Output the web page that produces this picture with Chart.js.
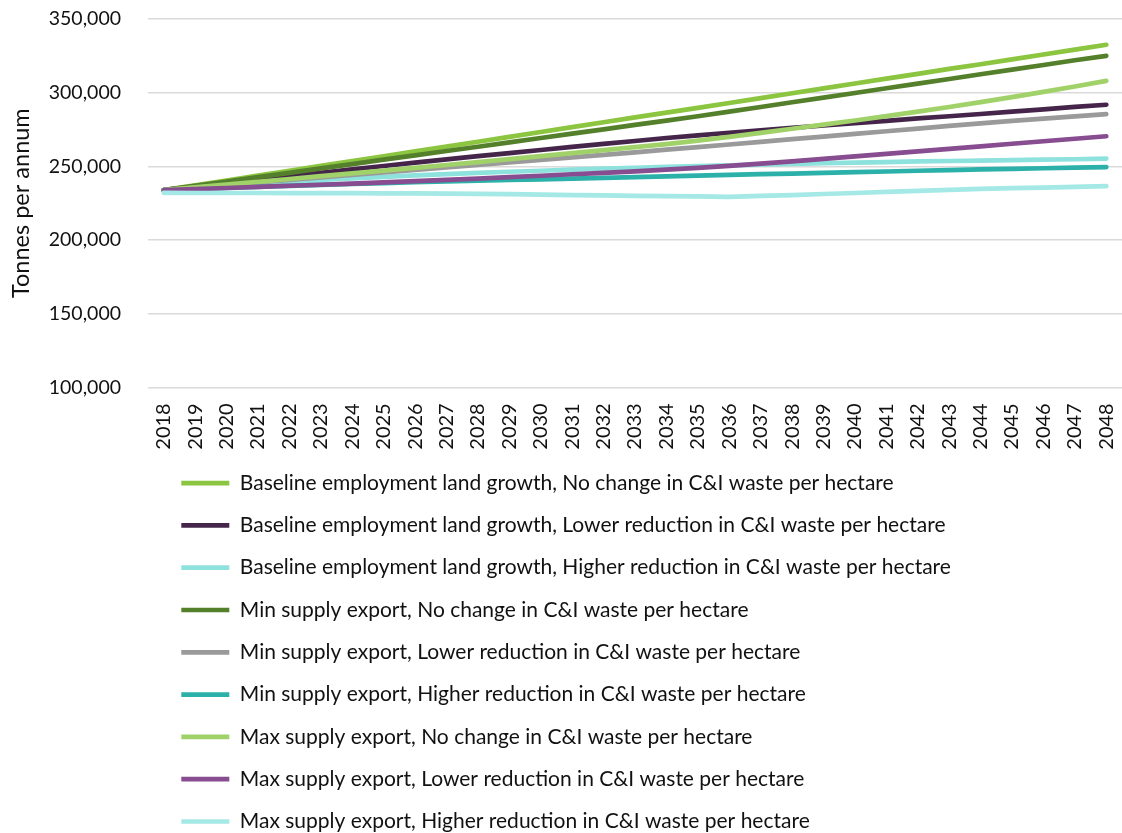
<!DOCTYPE html>
<html>
<head>
<meta charset="utf-8">
<title>C&amp;I waste projections</title>
<script src="https://cdn.jsdelivr.net/npm/chart.js@4/dist/chart.umd.min.js"></script>
<style>
    html, body { margin: 0; padding: 0; background: #ffffff; }
    #chart-wrap { width: 1122px; height: 833px; }
</style>
</head>
<body>
<div id="chart-wrap"><canvas id="Chart"></canvas></div>
<script>
const years = [];
for (let y = 2018; y <= 2048; y++) years.push(String(y));

const seriesNames = [
    'Baseline employment land growth, No change in C&I waste per hectare',
    'Baseline employment land growth, Lower reduction in C&I waste per hectare',
    'Baseline employment land growth, Higher reduction in C&I waste per hectare',
    'Min supply export, No change in C&I waste per hectare',
    'Min supply export, Lower reduction in C&I waste per hectare',
    'Min supply export, Higher reduction in C&I waste per hectare',
    'Max supply export, No change in C&I waste per hectare',
    'Max supply export, Lower reduction in C&I waste per hectare',
    'Max supply export, Higher reduction in C&I waste per hectare'
];

// tonnes per annum, 2018-2048
const baselineNoChange = [233800, 237100, 240400, 243700, 247000, 250300, 253500, 256800, 260100, 263400,
    266700, 270000, 273300, 276600, 279900, 283200, 286400, 289700, 293000, 296300,
    299600, 302900, 306200, 309500, 312800, 316100, 319300, 322600, 325900, 329200, 332500];
const baselineLower = [233800, 236200, 238500, 240900, 243200, 245500, 247900, 250200, 252500, 254700,
    256900, 259000, 261100, 263200, 265200, 267200, 269200, 271000, 272800, 274500,
    276100, 277700, 279300, 280900, 282500, 284000, 285500, 287100, 288700, 290300, 291800];
const baselineHigher = [233800, 235300, 236800, 238200, 239500, 240700, 241800, 242800, 243800, 244700,
    245500, 246300, 247000, 247700, 248400, 249000, 249600, 250200, 250700, 251200,
    251700, 252100, 252500, 252900, 253300, 253600, 253900, 254200, 254500, 254800, 255200];
const minNoChange = [233800, 236800, 239700, 242700, 245600, 248600, 251500, 254500, 257400, 260400,
    263300, 266300, 269200, 272200, 275100, 278100, 281000, 284000, 287100, 290300,
    293500, 296600, 299800, 303000, 306100, 309300, 312500, 315600, 318800, 322000, 325000];
const minLower = [233800, 235500, 237200, 239000, 240700, 242400, 244100, 245800, 247500, 249300,
    251000, 252700, 254400, 256100, 257800, 259500, 261300, 263000, 264800, 266600,
    268400, 270200, 272000, 273800, 275600, 277400, 279200, 280800, 282400, 283900, 285400];
const minHigher = [233800, 234600, 235300, 236000, 236700, 237400, 238000, 238600, 239200, 239700,
    240200, 240700, 241200, 241700, 242200, 242700, 243200, 243700, 244200, 244700,
    245100, 245600, 246100, 246500, 247000, 247400, 247900, 248300, 248700, 249100, 249500];
const maxNoChange = [233800, 235700, 237600, 239500, 241400, 243300, 245200, 247100, 249000, 250900,
    252900, 254900, 256900, 258900, 261000, 263000, 265100, 267400, 270000, 272700,
    275500, 278300, 281100, 284100, 287100, 290300, 293600, 297000, 300500, 304200, 308000];
const maxLower = [233800, 234500, 235300, 236000, 236800, 237500, 238300, 239100, 239900, 240800,
    241700, 242600, 243600, 244600, 245600, 246600, 247700, 248900, 250300, 251800,
    253400, 255100, 256800, 258500, 260200, 261900, 263600, 265300, 267000, 268700, 270400];
const maxHigher = [232000, 231900, 231900, 231900, 231800, 231800, 231800, 231700, 231700, 231500,
    231300, 231100, 230800, 230500, 230300, 230000, 229800, 229600, 229300, 229900,
    230500, 231200, 231900, 232600, 233300, 234000, 234700, 235200, 235600, 236100, 236500];

const yTicks = [100000, 150000, 200000, 250000, 300000, 350000];

const seriesValues = [baselineNoChange, baselineLower, baselineHigher,
    minNoChange, minLower, minHigher, maxNoChange, maxLower, maxHigher];
const seriesColours = ['#8cc540', '#45264a', '#8ee2dd', '#55802b', '#9a9a9a',
    '#2bb1a9', '#a1d26a', '#884c90', '#a4e9e5'];

const FONT = 'Lato, "Open Sans", sans-serif';
const TEXT_COLOUR = '#111111';
const LEGEND_LEFT = 160;
const X_AXIS_HEIGHT = 64;
const Y_AXIS_WIDTH = 148;

function buildDatasets() {
    return seriesNames.map(function (name, i) {
        return {
            label: name,
            data: seriesValues[i],
            borderColor: seriesColours[i],
            backgroundColor: seriesColours[i],
            borderWidth: 4.7,
            borderCapStyle: 'round',
            borderJoinStyle: 'round',
            pointRadius: 0,
            pointHoverRadius: 0,
            tension: 0,
            // later series sit on top of earlier ones
            order: seriesNames.length - i
        };
    });
}

// rows of the legend start under the plot rather than centred
const legendPlacement = {
    id: 'legendPlacement',
    afterLayout: function (chart) {
        chart.legend.left = LEGEND_LEFT;
    }
};

const ctx = document.getElementById('Chart').getContext('2d');
const wasteChart = new Chart(ctx, {
    type: 'line',
    data: {
        labels: years,
        datasets: buildDatasets()
    },
    options: {
        responsive: true,
        maintainAspectRatio: false,
        animation: false,
        layout: {
            padding: { top: 19, right: 0, bottom: -9, left: 0 }
        },
        scales: {
            x: {
                offset: true,
                grid: { display: false, drawTicks: false },
                border: { display: false },
                afterFit: function (scale) {
                    // plot runs to the right edge, labels sit in a fixed band
                    scale.paddingLeft = 0;
                    scale.paddingRight = 0;
                    scale.height = X_AXIS_HEIGHT;
                },
                ticks: {
                    autoSkip: false,
                    minRotation: 90,
                    maxRotation: 90,
                    padding: 16,
                    color: TEXT_COLOUR,
                    font: { family: FONT, size: 20 }
                }
            },
            y: {
                min: 100000,
                max: 350000,
                afterBuildTicks: function (scale) {
                    scale.ticks = yTicks.map(function (v) { return { value: v }; });
                },
                afterFit: function (scale) {
                    scale.width = Y_AXIS_WIDTH;
                    scale.paddingTop = 0;
                    scale.paddingBottom = 0;
                },
                grid: { color: '#dadada', lineWidth: 1.5, drawTicks: false },
                border: { display: false },
                ticks: {
                    padding: 27,
                    color: TEXT_COLOUR,
                    font: { family: FONT, size: 19.5 },
                    callback: function (v) { return v.toLocaleString('en-GB'); }
                },
                title: {
                    display: true,
                    text: 'Tonnes per annum',
                    color: TEXT_COLOUR,
                    padding: { top: 7, bottom: 3 },
                    font: { family: FONT, size: 23.5 }
                }
            }
        },
        plugins: {
            legend: {
                position: 'bottom',
                align: 'start',
                labels: {
                    usePointStyle: true,
                    pointStyle: 'line',
                    pointStyleWidth: 48,
                    padding: 21.3,
                    color: TEXT_COLOUR,
                    font: { family: FONT, size: 21 },
                    sort: function (a, b) { return a.datasetIndex - b.datasetIndex; }
                }
            },
            tooltip: { enabled: false }
        }
    },
    plugins: [legendPlacement]
});
</script>
</body>
</html>
